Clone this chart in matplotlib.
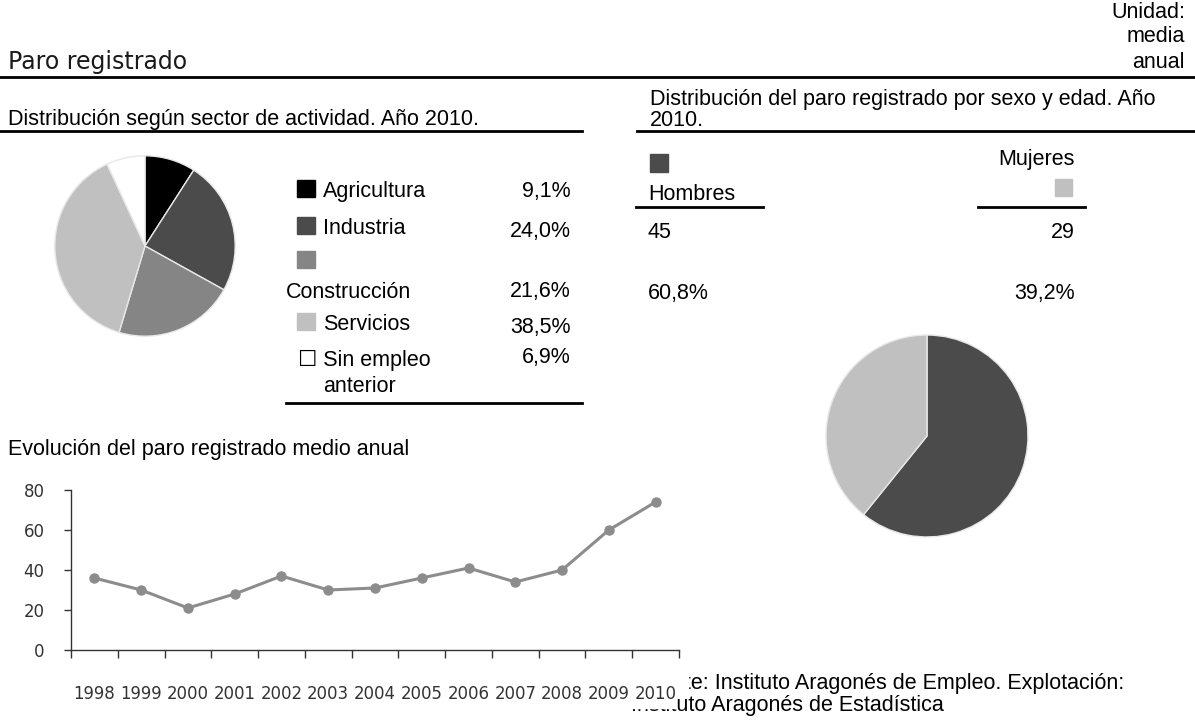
import numpy as np
import matplotlib
matplotlib.use("Agg")
import matplotlib.pyplot as plt
from matplotlib.patches import Rectangle
from matplotlib import font_manager

plt.rcParams['font.family'] = ['Liberation Sans', 'DejaVu Sans']

# datos
sectores = ["Agricultura", "Industria", "Construcción", "Servicios", "Sin empleo anterior"]
sector_pct = [9.1, 24.0, 21.6, 38.5, 6.9]
sector_colores = ["#000000", "#4b4b4b", "#858585", "#c0c0c0", "#ffffff"]

sexos = ["Hombres", "Mujeres"]
sexo_miles = [45, 29]
sexo_pct = [60.8, 39.2]
sexo_colores = ["#4b4b4b", "#c0c0c0"]

anios = ["1998", "1999", "2000", "2001", "2002", "2003", "2004",
         "2005", "2006", "2007", "2008", "2009", "2010"]
paro_medio = [36, 30, 21, 28, 37, 30, 31, 36, 41, 34, 40, 60, 74]

# buscar una fuente estrecha si hay alguna
narrow_file = None
for f in font_manager.fontManager.ttflist:
    nm = f.name.lower()
    st = str(f.stretch).lower()
    if f.style == 'normal' and str(f.weight) in ('400', 'normal', 'regular') and \
            ('narrow' in nm or 'condensed' in nm or st in ('condensed', 'semi-condensed', '87.5', '75')):
        narrow_file = f.fname
        break
if narrow_file:
    narrow_fp = font_manager.FontProperties(fname=narrow_file, size=13.2)
else:
    narrow_fp = font_manager.FontProperties(family='Liberation Sans', size=11.5)

W, H = 1195, 720
fig = plt.figure(figsize=(W / 100, H / 100), dpi=100)

# capa para textos y reglas, en pixeles
ov = fig.add_axes([0, 0, 1, 1])
ov.set_xlim(0, W)
ov.set_ylim(H, 0)
ov.axis('off')


def px_axes(x0, y0, w, h):
    return fig.add_axes([x0 / W, 1 - (y0 + h) / H, w / W, h / H])


def pct(v):
    return f"{v:.1f}%".replace(".", ",")


fs = 15.5
# cabecera
for i, t in enumerate(["Unidad:", "media", "anual"]):
    ov.text(1185, 12 + 25 * i, t, ha='right', va='center', fontsize=fs)
ov.text(8, 62, "Paro registrado", ha='left', va='center', fontsize=17,
        family='DejaVu Sans', color='#1a1a1a')
ov.plot([0, W], [77, 77], color='black', lw=2)

ov.text(8, 120, "Distribución según sector de actividad. Año 2010.",
        ha='left', va='center', fontsize=fs)
ov.plot([0, 582], [131, 131], color='black', lw=2)
ov.text(650, 100, "Distribución del paro registrado por sexo y edad. Año",
        ha='left', va='center', fontsize=fs)
ov.text(650, 121, "2010.", ha='left', va='center', fontsize=fs)
ov.plot([637, W], [131, 131], color='black', lw=2)

# tabla de sectores
rows_y = [192, 229, 292, 325, 360]
ov.add_patch(Rectangle((297, 180), 18, 17, color=sector_colores[0]))
ov.text(323, rows_y[0], sectores[0], va='center', fontsize=fs)
ov.add_patch(Rectangle((297, 217), 18, 17, color=sector_colores[1]))
ov.text(323, rows_y[1], sectores[1], va='center', fontsize=fs)
ov.add_patch(Rectangle((297, 251), 18, 17, color=sector_colores[2]))
ov.text(286, rows_y[2], sectores[2], va='center', fontsize=fs)
ov.add_patch(Rectangle((297, 313), 18, 17, color=sector_colores[3]))
ov.text(323, rows_y[3], sectores[3], va='center', fontsize=fs)
ov.text(298, rows_y[4], "☐ Sin empleo", va='center', fontsize=fs)
ov.text(323, 386, "anterior", va='center', fontsize=fs)
pct_y = [192, 232, 292, 327, 357]
for v, y in zip(sector_pct, pct_y):
    ov.text(571, y, pct(v), ha='right', va='center', fontsize=fs)
ov.plot([286, 582], [403, 403], color='black', lw=2)

# tabla por sexo
ov.add_patch(Rectangle((650, 154), 18, 18, color=sexo_colores[0]))
ov.text(648, 195, sexos[0], va='center', fontsize=fs)
ov.plot([636, 763], [207, 207], color='black', lw=2)
ov.text(1075, 160, sexos[1], ha='right', va='center', fontsize=fs)
ov.add_patch(Rectangle((1055, 179), 17, 17, color=sexo_colores[1]))
ov.plot([978, 1085], [207, 207], color='black', lw=2)
ov.text(648, 233, str(sexo_miles[0]), va='center', fontsize=fs)
ov.text(1075, 233, str(sexo_miles[1]), ha='right', va='center', fontsize=fs)
ov.text(648, 293, pct(sexo_pct[0]), va='center', fontsize=fs)
ov.text(1075, 293, pct(sexo_pct[1]), ha='right', va='center', fontsize=fs)

# evolución
ov.text(8, 449, "Evolución del paro registrado medio anual",
        ha='left', va='center', fontsize=fs)

# fuente (tapada en parte por el grafico, como en el original)
ov.text(636, 684, "Fuente: Instituto Aragonés de Empleo. Explotación:",
        va='center', fontsize=fs, zorder=3)
ov.text(631, 706, "Instituto Aragonés de Estadística",
        va='center', fontsize=fs, zorder=3)
ov.add_patch(Rectangle((560, 660), 128, 35, color='white', zorder=4))
ov.add_patch(Rectangle((560, 695), 116, 13, color='white', zorder=4))

# tarta sectores
ax1 = px_axes(53, 154, 184, 184)
ax1.pie(sector_pct, colors=sector_colores, startangle=90, counterclock=False,
        radius=1, wedgeprops=dict(edgecolor='#e8e8e8', linewidth=1))
ax1.set_xlim(-1.02, 1.02)
ax1.set_ylim(-1.02, 1.02)

# tarta sexo
ax2 = px_axes(824, 333, 206, 206)
ax2.pie(sexo_pct, colors=sexo_colores, startangle=90, counterclock=False,
        radius=1, wedgeprops=dict(edgecolor='#e8e8e8', linewidth=1))
ax2.set_xlim(-1.02, 1.02)
ax2.set_ylim(-1.02, 1.02)

# linea
ax3 = px_axes(71, 490, 608, 160)
ax3.patch.set_visible(False)
x = np.arange(len(anios))
ax3.plot(x, paro_medio, color='#8c8c8c', lw=2.2, marker='o', markersize=6.5,
         clip_on=False)
ax3.set_xlim(-0.5, len(anios) - 0.5)
ax3.set_ylim(0, 80)
ax3.set_yticks([0, 20, 40, 60, 80])
ax3.set_xticks(x)
ax3.set_xticklabels(anios)
ax3.set_xticks(np.arange(len(anios) + 1) - 0.5, minor=True)
ax3.tick_params(axis='x', which='major', length=0, pad=25, labelcolor='#333333')
ax3.tick_params(axis='x', which='minor', length=6, width=1, color='#333333')
ax3.tick_params(axis='y', length=5, width=1, color='#333333', pad=14,
                labelcolor='#333333')
for lab in ax3.get_xticklabels() + ax3.get_yticklabels():
    lab.set_fontproperties(narrow_fp)
for s in ['top', 'right']:
    ax3.spines[s].set_visible(False)
for s in ['left', 'bottom']:
    ax3.spines[s].set_color('#333333')
    ax3.spines[s].set_linewidth(1)

fig.savefig("out.png", dpi=100)
